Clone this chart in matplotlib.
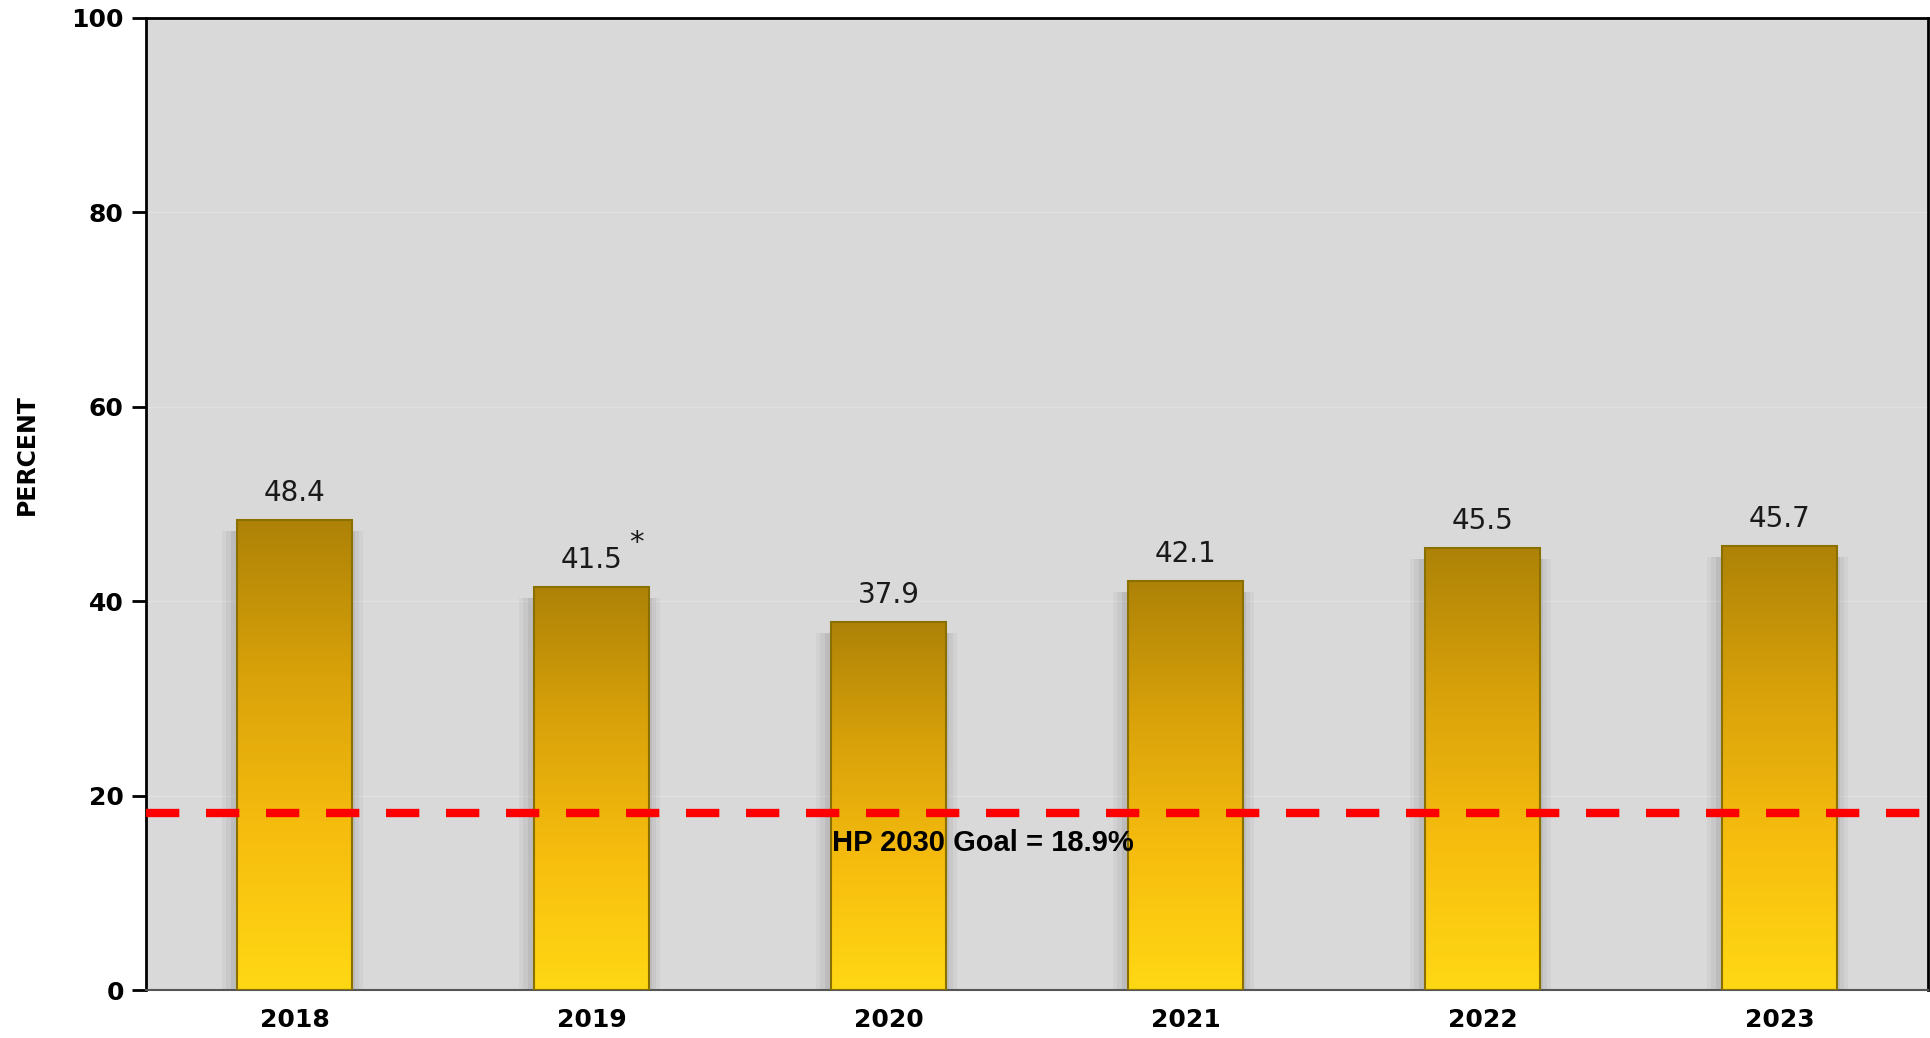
import matplotlib.pyplot as plt
import numpy as np
from matplotlib.colors import LinearSegmentedColormap

years = ["2018", "2019", "2020", "2021", "2022", "2023"]
percent = [48.4, 41.5, 37.9, 42.1, 45.5, 45.7]
marks = ["", "*", "", "", "", ""]
goal_value = 18.9
goal_line = 18.2
goal_text = "HP 2030 Goal = 18.9%"

fig = plt.figure(figsize=(19.31, 10.38), dpi=100)
ax = fig.add_axes([146 / 1931, 1 - 990 / 1038, (1928 - 146) / 1931, (990 - 18) / 1038])
ax.set_facecolor("#d9d9d9")

x = np.arange(len(years))
w = 0.39
cmap = LinearSegmentedColormap.from_list("gold", ["#ffd814", "#f7bd0e", "#d9a20a", "#ad8207"])
grad = np.linspace(0, 1, 256).reshape(-1, 1)

for xi, v in zip(x, percent):
    # soft shadow around the bar
    for k, a in enumerate([0.08, 0.10, 0.14]):
        pad = 0.014 * (3 - k)
        ax.add_patch(plt.Rectangle((xi - w / 2 - pad - 0.006, 0), w + 2 * pad, v - 1.2,
                                   color="#7a7a7a", alpha=a, lw=0, zorder=1))
    bar = ax.bar(xi, v, width=w, color="none", edgecolor="#8a7000", linewidth=1.5, zorder=3)[0]
    im = ax.imshow(grad, cmap=cmap, extent=(xi - w / 2, xi + w / 2, 0, v), origin="lower",
                   aspect="auto", zorder=2)
    im.set_clip_path(bar)
    ax.text(xi, v + 1.3, f"{v}", ha="center", va="bottom", fontsize=20, color="#1a1a1a", zorder=4)

for xi, v, m in zip(x, percent, marks):
    if m:
        ax.text(xi + 0.15, v + 3.0, m, ha="center", va="bottom", fontsize=21, color="#1a1a1a", zorder=4)

ax.axhline(goal_line, color="#ff0000", lw=6, ls=(0, (4, 3.2)), zorder=5)
ax.text(1.81, 15.1, goal_text, ha="left", va="center", fontsize=21, fontweight="bold",
        family="Liberation Sans", color="black", zorder=6)

ax.set_xlim(-0.5, 5.5)
ax.set_ylim(0, 100)
ax.set_yticks([0, 20, 40, 60, 80, 100])
ax.set_xticks(x)
ax.set_xticklabels(years)
ax.yaxis.grid(True, color="#e0e0e0", lw=1, zorder=0)
ax.set_axisbelow(True)
ax.tick_params(axis="y", length=10, width=2, labelsize=18, pad=6)
ax.tick_params(axis="x", length=0, labelsize=18, pad=13)
for lab in ax.get_xticklabels() + ax.get_yticklabels():
    lab.set_fontweight("bold")
ax.set_ylabel("PERCENT", fontsize=17, fontweight="bold", va="center")
ax.yaxis.set_label_coords(-0.067, 0.551)
for s in ["left", "top", "right"]:
    ax.spines[s].set_linewidth(2)
    ax.spines[s].set_color("black")
ax.spines["bottom"].set_color("#555555")
ax.spines["bottom"].set_linewidth(1.5)

fig.savefig("out.png", dpi=100)
